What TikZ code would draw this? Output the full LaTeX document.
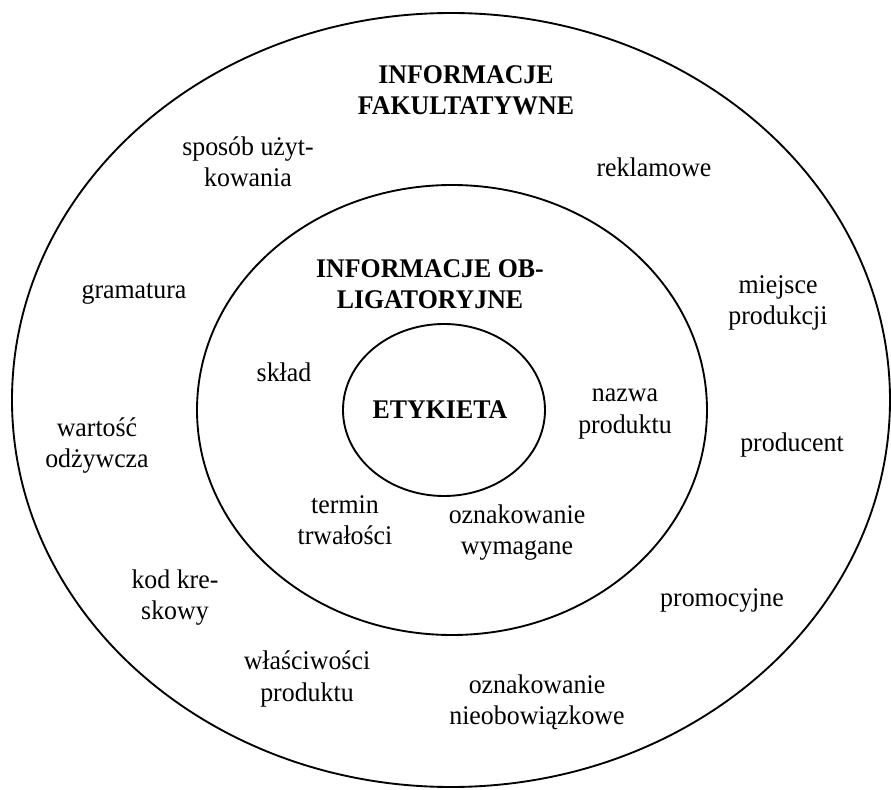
\documentclass[tikz,border=0pt]{standalone}
\usepackage{fontspec}
\setmainfont[FakeStretch=0.96]{Liberation Serif}
\usepackage{tikz}

\begin{document}
\begin{tikzpicture}[
        ring/.style={line width=1.6pt},
        word/.style={align=center, inner sep=0pt, font=\fontsize{23}{26.5}\selectfont},
        head/.style={word, font=\fontsize{23}{26.5}\selectfont\bfseries}
    ]
                \useasboundingbox (-13.53,-11.67) rectangle (13.2,12.0);

                % Rings
                \draw[ring] (0,0) ellipse [x radius=13.17, y radius=11.61];
                \draw[ring] (0.03,-0.30) ellipse [x radius=7.65, y radius=6.75];
                \draw[ring] (-0.21,-0.30) ellipse [x radius=3.03, y radius=2.58];

                % Centre
                \node[head] (etykieta) at (-0.33,-0.30) {ETYKIETA};

                % Obligatory ring
                \node[head] (oblig) at (-0.63,3.48) {INFORMACJE OB-\\LIGATORYJNE};
                \node[word] (sklad) at (-5.01,0.84) {skład};
                \node[word] (nazwa) at (5.22,-0.42) {nazwa\\produktu};
                \node[word] (termin) at (-3.18,-3.6) {termin\\trwałości};
                \node[word] (wymagane) at (1.98,-3.99) {oznakowanie\\wymagane};

                % Optional ring
                \node[head] (fakult) at (0.45,9.30) {INFORMACJE\\FAKULTATYWNE};
                \node[word] (sposob) at (-6.09,7.14) {sposób użyt-\\kowania};
                \node[word] (reklamowe) at (6.09,6.99) {reklamowe};
                \node[word] (gramatura) at (-9.51,3.18) {gramatura};
                \node[word] (miejsce) at (9.81,2.91) {miejsce\\produkcji};
                \node[word] (wartosc) at (-10.62,-1.38) {wartość\\odżywcza};
                \node[word] (producent) at (10.23,-1.35) {producent};
                \node[word] (kod) at (-8.28,-5.94) {kod kre-\\skowy};
                \node[word] (promocyjne) at (8.13,-6.00) {promocyjne};
                \node[word] (wlasciwosci) at (-4.32,-8.37) {właściwości\\produktu};
                \node[word] (nieobow) at (2.58,-9.06) {oznakowanie\\nieobowiązkowe};
\end{tikzpicture}
\end{document}
